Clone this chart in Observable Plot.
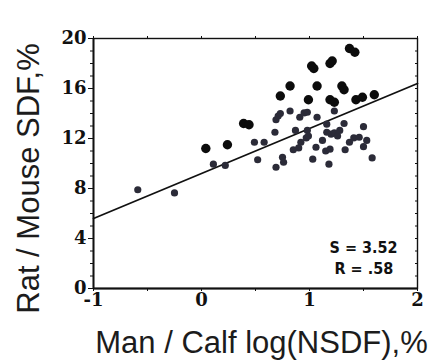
<!DOCTYPE html>
<html>
<head>
<meta charset="utf-8">
<script src="https://cdn.jsdelivr.net/npm/d3@7"></script>
<script src="https://cdn.jsdelivr.net/npm/@observablehq/plot@0.6"></script>
<style>
  html, body { margin: 0; padding: 0; background: #fff; }
  #chart { width: 429px; height: 364px; overflow: hidden; }
</style>
</head>
<body>
<div id="chart"></div>
<script>
// Large black points (x = Man/Calf log(NSDF), y = Rat/Mouse SDF)
const blackX = [0.04, 0.24, 0.39, 0.44, 0.73, 0.82, 0.99, 1.02, 1.04, 1.07, 1.19, 1.21, 1.19, 1.23, 1.30, 1.32, 1.37, 1.42, 1.43, 1.49, 1.60];
const blackY = [11.2, 11.5, 13.2, 13.1, 15.4, 16.2, 15.1, 17.8, 17.6, 16.2, 18.0, 18.2, 15.1, 14.9, 16.2, 15.9, 19.2, 18.9, 15.1, 15.3, 15.5];

// Smaller dark gray points
const grayX = [-0.59, -0.25, 0.11, 0.22, 0.49, 0.52, 0.58, 0.68, 0.69, 0.69, 0.71, 0.73, 0.75, 0.76, 0.82, 0.85, 0.90, 0.87, 0.91, 0.95, 0.98, 0.92, 0.97, 0.98, 0.99, 1.03, 1.07, 1.06, 1.12, 1.16, 1.16, 1.20, 1.15, 1.19, 1.18, 1.23, 1.23, 1.26, 1.28, 1.32, 1.33, 1.37, 1.41, 1.46, 1.50, 1.50, 1.53, 1.58];
const grayY = [7.9, 7.65, 9.95, 9.85, 11.7, 10.3, 11.7, 12.5, 9.7, 13.5, 13.8, 14.0, 10.5, 10.1, 14.2, 11.1, 11.25, 12.65, 13.7, 14.05, 14.1, 11.7, 12.05, 12.65, 12.2, 10.35, 13.7, 11.3, 11.85, 13.15, 12.5, 12.35, 11.0, 11.15, 9.95, 14.2, 12.45, 12.2, 12.65, 13.2, 11.1, 11.7, 12.05, 12.1, 12.95, 11.35, 11.85, 10.45];

// Regression line end points
const lineX = [-1, 2];
const lineY = [5.6, 16.4];

// Axis ticks
const xTicks = [-1, 0, 1, 2];
const yTicks = [0, 4, 8, 12, 16, 20];
const xMinor = d3.range(-1, 2.01, 0.5);
const yMinor = d3.range(0, 20.01, 1);

const statS = "S = 3.52";
const statR = "R = .58";
const xLabel = "Man / Calf log(NSDF),%";
const yLabel = "Rat / Mouse SDF,%";

const black = blackX.map((x, i) => ({x, y: blackY[i]}));
const gray = grayX.map((x, i) => ({x, y: grayY[i]}));
const line = lineX.map((x, i) => ({x, y: lineY[i]}));

const tickFont = {fontSize: 18, fontWeight: "bold", fontFamily: "'DejaVu Serif', 'Liberation Serif', serif", fill: "#111"};
const statFont = {fontSize: 16, fontWeight: "bold", fontFamily: "'Liberation Sans Narrow', 'DejaVu Sans Condensed', sans-serif", fill: "#111"};
const titleFont = {fontSize: 31, fontFamily: "'Liberation Sans', Arial, sans-serif", fill: "#1c1c1c"};

const chart = Plot.plot({
  width: 429,
  height: 364,
  marginLeft: 93,
  marginRight: 12,
  marginTop: 38,
  marginBottom: 76,
  style: {background: "#fff", color: "#111", overflow: "visible"},
  x: {domain: [-1, 2]},
  y: {domain: [0, 20]},
  marks: [
    Plot.frame({stroke: "#111", strokeWidth: 1.4}),
    Plot.ruleY([0], {stroke: "#111", strokeWidth: 2.2}),
    Plot.ruleX([-1], {stroke: "#111", strokeWidth: 1.8}),
    // tick marks
    Plot.axisY({ticks: yMinor, tickSize: 3, tickFormat: () => "", label: null, stroke: "#111"}),
    Plot.axisY({ticks: yTicks, tickSize: 5, tickFormat: () => "", label: null, stroke: "#111"}),
    Plot.axisY({anchor: "right", ticks: yMinor, tickSize: -3, tickFormat: () => "", label: null, stroke: "#111"}),
    Plot.axisX({ticks: xMinor, tickSize: 3, tickFormat: () => "", label: null, stroke: "#111"}),
    Plot.axisX({anchor: "top", ticks: xMinor, tickSize: 3, tickFormat: () => "", label: null, stroke: "#111"}),
    // tick labels
    Plot.text(yTicks, {y: d => d, frameAnchor: "left", textAnchor: "end", dx: -7, text: d => String(d), ...tickFont}),
    Plot.text(xTicks, {x: d => d, frameAnchor: "bottom", textAnchor: "middle", dy: 17, text: d => String(d), ...tickFont}),
    // regression line
    Plot.line(line, {x: "x", y: "y", stroke: "#111", strokeWidth: 1.8}),
    // points
    Plot.dot(gray, {x: "x", y: "y", r: 3.6, fill: "#2b2b38", stroke: "none"}),
    Plot.dot(black, {x: "x", y: "y", r: 4.7, fill: "#0c0c0c", stroke: "none"}),
    // statistics
    Plot.text([statS], {frameAnchor: "bottom-right", textAnchor: "start", dx: -88, dy: -36, text: d => d, ...statFont}),
    Plot.text([statR], {frameAnchor: "bottom-right", textAnchor: "start", dx: -83, dy: -15, text: d => d, ...statFont}),
    // axis titles
    Plot.text([xLabel], {frameAnchor: "bottom", dy: 64, dx: 6, textAnchor: "middle", text: d => d, ...titleFont}),
    Plot.text([yLabel], {frameAnchor: "left", dx: -64, dy: 15, rotate: -90, textAnchor: "middle", text: d => d, ...titleFont})
  ]
});

document.getElementById("chart").appendChild(chart);
</script>
</body>
</html>
